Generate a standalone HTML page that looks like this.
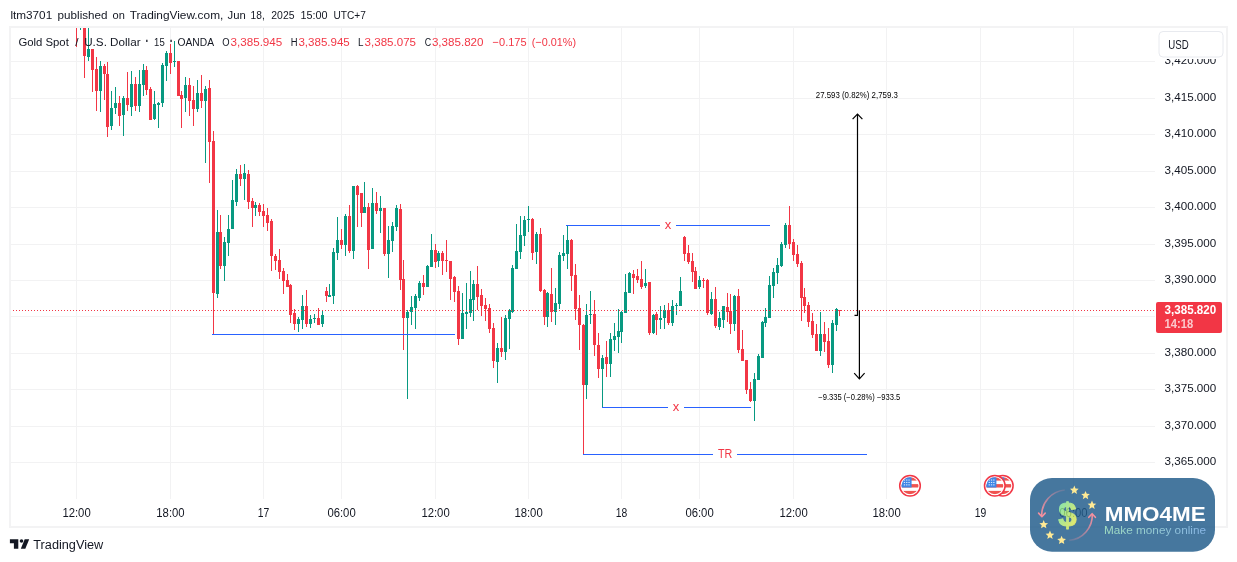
<!DOCTYPE html>
<html lang="en"><head><meta charset="utf-8"><title>XAUUSD chart</title>
<style>html,body{margin:0;padding:0;background:#fff;}svg{display:block;will-change:transform}text{font-family:"Liberation Sans",Arial,sans-serif;}</style></head><body>
<svg width="1237" height="562" viewBox="0 0 1237 562">
<defs><clipPath id="pane"><rect x="11" y="28" width="1144" height="471"/></clipPath>
<linearGradient id="dg" x1="0" y1="0" x2="1" y2="1"><stop offset="0" stop-color="#5fe0a8"/><stop offset="1" stop-color="#f6e53e"/></linearGradient>
<linearGradient id="tg" x1="0" y1="0" x2="1" y2="0"><stop offset="0" stop-color="#8ed6b4"/><stop offset="1" stop-color="#6fa6e0"/></linearGradient>
<linearGradient id="a1" x1="1" y1="0" x2="0" y2="1"><stop offset="0" stop-color="#f27a8c" stop-opacity="0.15"/><stop offset="1" stop-color="#f27a8c"/></linearGradient>
<linearGradient id="a2" x1="0" y1="1" x2="1" y2="0"><stop offset="0" stop-color="#f27a8c" stop-opacity="0.15"/><stop offset="1" stop-color="#f27a8c"/></linearGradient>
<clipPath id="fc"><circle cx="0" cy="0" r="8.5"/></clipPath>
<g id="flag"><circle cx="0" cy="0" r="10.3" fill="#fff" stroke="#F23645" stroke-width="1.5"/><g clip-path="url(#fc)"><rect x="-9" y="-9" width="18" height="18" fill="#fff"/><rect x="-9" y="-8.6" width="18" height="3.4" fill="#ef5350"/><rect x="-9" y="-1.7" width="18" height="3.4" fill="#ef5350"/><rect x="-9" y="5.1" width="18" height="3.5" fill="#ef5350"/><rect x="-9" y="-9" width="10.6" height="10.7" fill="#3f86e6"/><rect x="-6.2" y="-6.3" width="1.3" height="1.1" fill="#dbe9fb"/><rect x="-3.9" y="-6.3" width="1.3" height="1.1" fill="#dbe9fb"/><rect x="-1.6" y="-6.3" width="1.3" height="1.1" fill="#dbe9fb"/><rect x="-6.2" y="-3.9" width="1.3" height="1.1" fill="#dbe9fb"/><rect x="-3.9" y="-3.9" width="1.3" height="1.1" fill="#dbe9fb"/><rect x="-1.6" y="-3.9" width="1.3" height="1.1" fill="#dbe9fb"/><rect x="-6.2" y="-1.5" width="1.3" height="1.1" fill="#dbe9fb"/><rect x="-3.9" y="-1.5" width="1.3" height="1.1" fill="#dbe9fb"/><rect x="-1.6" y="-1.5" width="1.3" height="1.1" fill="#dbe9fb"/></g></g>
</defs>
<rect width="1237" height="562" fill="#fff"/>
<rect x="10" y="27" width="1217" height="500" fill="#fff" stroke="#f3f3f4" stroke-width="2"/>
<g shape-rendering="crispEdges" fill="#f2f2f3">
<rect x="76" y="28" width="1" height="471"/>
<rect x="170" y="28" width="1" height="471"/>
<rect x="263" y="28" width="1" height="471"/>
<rect x="341" y="28" width="1" height="471"/>
<rect x="435" y="28" width="1" height="471"/>
<rect x="528" y="28" width="1" height="471"/>
<rect x="621" y="28" width="1" height="471"/>
<rect x="699" y="28" width="1" height="471"/>
<rect x="793" y="28" width="1" height="471"/>
<rect x="886" y="28" width="1" height="471"/>
<rect x="980" y="28" width="1" height="471"/>
<rect x="1073" y="28" width="1" height="471"/>
<rect x="11" y="61" width="1144" height="1"/>
<rect x="11" y="98" width="1144" height="1"/>
<rect x="11" y="134" width="1144" height="1"/>
<rect x="11" y="171" width="1144" height="1"/>
<rect x="11" y="207" width="1144" height="1"/>
<rect x="11" y="244" width="1144" height="1"/>
<rect x="11" y="280" width="1144" height="1"/>
<rect x="11" y="316" width="1144" height="1"/>
<rect x="11" y="353" width="1144" height="1"/>
<rect x="11" y="389" width="1144" height="1"/>
<rect x="11" y="426" width="1144" height="1"/>
<rect x="11" y="462" width="1144" height="1"/>
</g>
<g shape-rendering="crispEdges" clip-path="url(#pane)">
<rect x="76" y="0" width="1" height="47" fill="#F23645"/>
<rect x="75" y="0" width="3" height="20" fill="#F23645"/>
<rect x="80" y="0" width="1" height="30" fill="#089981"/>
<rect x="79" y="0" width="3" height="20" fill="#089981"/>
<rect x="84" y="0" width="1" height="78" fill="#F23645"/>
<rect x="83" y="0" width="3" height="56" fill="#F23645"/>
<rect x="88" y="0" width="1" height="61" fill="#089981"/>
<rect x="87" y="49" width="3" height="8" fill="#089981"/>
<rect x="92" y="49" width="1" height="43" fill="#F23645"/>
<rect x="91" y="49" width="3" height="21" fill="#F23645"/>
<rect x="96" y="57" width="1" height="54" fill="#F23645"/>
<rect x="95" y="69" width="3" height="22" fill="#F23645"/>
<rect x="100" y="61" width="1" height="51" fill="#089981"/>
<rect x="99" y="66" width="3" height="25" fill="#089981"/>
<rect x="104" y="64" width="1" height="36" fill="#F23645"/>
<rect x="103" y="66" width="3" height="8" fill="#F23645"/>
<rect x="107" y="62" width="1" height="75" fill="#F23645"/>
<rect x="106" y="74" width="3" height="53" fill="#F23645"/>
<rect x="111" y="91" width="1" height="39" fill="#089981"/>
<rect x="110" y="108" width="3" height="18" fill="#089981"/>
<rect x="115" y="87" width="1" height="27" fill="#089981"/>
<rect x="114" y="103" width="3" height="5" fill="#089981"/>
<rect x="119" y="96" width="1" height="30" fill="#F23645"/>
<rect x="118" y="103" width="3" height="13" fill="#F23645"/>
<rect x="123" y="96" width="1" height="40" fill="#089981"/>
<rect x="122" y="98" width="3" height="17" fill="#089981"/>
<rect x="127" y="72" width="1" height="39" fill="#F23645"/>
<rect x="126" y="98" width="3" height="7" fill="#F23645"/>
<rect x="131" y="71" width="1" height="45" fill="#089981"/>
<rect x="130" y="84" width="3" height="23" fill="#089981"/>
<rect x="135" y="77" width="1" height="34" fill="#F23645"/>
<rect x="134" y="84" width="3" height="22" fill="#F23645"/>
<rect x="139" y="70" width="1" height="42" fill="#089981"/>
<rect x="138" y="84" width="3" height="22" fill="#089981"/>
<rect x="143" y="64" width="1" height="32" fill="#089981"/>
<rect x="142" y="70" width="3" height="15" fill="#089981"/>
<rect x="146" y="66" width="1" height="29" fill="#F23645"/>
<rect x="145" y="70" width="3" height="20" fill="#F23645"/>
<rect x="150" y="87" width="1" height="33" fill="#F23645"/>
<rect x="149" y="89" width="3" height="31" fill="#F23645"/>
<rect x="154" y="91" width="1" height="29" fill="#089981"/>
<rect x="153" y="104" width="3" height="15" fill="#089981"/>
<rect x="158" y="102" width="1" height="26" fill="#089981"/>
<rect x="157" y="103" width="3" height="2" fill="#089981"/>
<rect x="162" y="63" width="1" height="44" fill="#089981"/>
<rect x="161" y="65" width="3" height="38" fill="#089981"/>
<rect x="166" y="51" width="1" height="30" fill="#089981"/>
<rect x="165" y="53" width="3" height="13" fill="#089981"/>
<rect x="170" y="44" width="1" height="30" fill="#F23645"/>
<rect x="169" y="53" width="3" height="10" fill="#F23645"/>
<rect x="174" y="41" width="1" height="26" fill="#089981"/>
<rect x="173" y="61" width="3" height="1" fill="#089981"/>
<rect x="178" y="61" width="1" height="35" fill="#F23645"/>
<rect x="177" y="61" width="3" height="35" fill="#F23645"/>
<rect x="181" y="91" width="1" height="37" fill="#F23645"/>
<rect x="180" y="95" width="3" height="4" fill="#F23645"/>
<rect x="185" y="77" width="1" height="35" fill="#089981"/>
<rect x="184" y="85" width="3" height="13" fill="#089981"/>
<rect x="189" y="78" width="1" height="38" fill="#F23645"/>
<rect x="188" y="85" width="3" height="16" fill="#F23645"/>
<rect x="193" y="86" width="1" height="40" fill="#F23645"/>
<rect x="192" y="100" width="3" height="9" fill="#F23645"/>
<rect x="197" y="80" width="1" height="32" fill="#089981"/>
<rect x="196" y="93" width="3" height="16" fill="#089981"/>
<rect x="201" y="75" width="1" height="33" fill="#F23645"/>
<rect x="200" y="93" width="3" height="8" fill="#F23645"/>
<rect x="205" y="86" width="1" height="77" fill="#089981"/>
<rect x="204" y="89" width="3" height="12" fill="#089981"/>
<rect x="209" y="80" width="1" height="103" fill="#F23645"/>
<rect x="208" y="88" width="3" height="54" fill="#F23645"/>
<rect x="213" y="131" width="1" height="203" fill="#F23645"/>
<rect x="212" y="141" width="3" height="152" fill="#F23645"/>
<rect x="217" y="210" width="1" height="88" fill="#089981"/>
<rect x="216" y="232" width="3" height="62" fill="#089981"/>
<rect x="220" y="215" width="1" height="54" fill="#F23645"/>
<rect x="219" y="232" width="3" height="34" fill="#F23645"/>
<rect x="224" y="237" width="1" height="44" fill="#089981"/>
<rect x="223" y="242" width="3" height="24" fill="#089981"/>
<rect x="228" y="215" width="1" height="41" fill="#089981"/>
<rect x="227" y="229" width="3" height="14" fill="#089981"/>
<rect x="232" y="180" width="1" height="49" fill="#089981"/>
<rect x="231" y="200" width="3" height="29" fill="#089981"/>
<rect x="236" y="169" width="1" height="37" fill="#089981"/>
<rect x="235" y="174" width="3" height="28" fill="#089981"/>
<rect x="240" y="165" width="1" height="21" fill="#F23645"/>
<rect x="239" y="174" width="3" height="5" fill="#F23645"/>
<rect x="244" y="164" width="1" height="36" fill="#089981"/>
<rect x="243" y="173" width="3" height="6" fill="#089981"/>
<rect x="248" y="170" width="1" height="39" fill="#F23645"/>
<rect x="247" y="174" width="3" height="28" fill="#F23645"/>
<rect x="252" y="198" width="1" height="29" fill="#F23645"/>
<rect x="251" y="201" width="3" height="7" fill="#F23645"/>
<rect x="255" y="202" width="1" height="14" fill="#089981"/>
<rect x="254" y="205" width="3" height="3" fill="#089981"/>
<rect x="259" y="203" width="1" height="13" fill="#F23645"/>
<rect x="258" y="205" width="3" height="7" fill="#F23645"/>
<rect x="263" y="204" width="1" height="23" fill="#F23645"/>
<rect x="262" y="211" width="3" height="5" fill="#F23645"/>
<rect x="267" y="208" width="1" height="23" fill="#F23645"/>
<rect x="266" y="215" width="3" height="8" fill="#F23645"/>
<rect x="271" y="219" width="1" height="52" fill="#F23645"/>
<rect x="270" y="221" width="3" height="35" fill="#F23645"/>
<rect x="275" y="254" width="1" height="16" fill="#F23645"/>
<rect x="274" y="256" width="3" height="5" fill="#F23645"/>
<rect x="279" y="249" width="1" height="30" fill="#F23645"/>
<rect x="278" y="260" width="3" height="12" fill="#F23645"/>
<rect x="283" y="268" width="1" height="26" fill="#F23645"/>
<rect x="282" y="271" width="3" height="10" fill="#F23645"/>
<rect x="287" y="274" width="1" height="13" fill="#F23645"/>
<rect x="286" y="280" width="3" height="7" fill="#F23645"/>
<rect x="290" y="284" width="1" height="39" fill="#F23645"/>
<rect x="289" y="285" width="3" height="30" fill="#F23645"/>
<rect x="294" y="309" width="1" height="21" fill="#F23645"/>
<rect x="293" y="313" width="3" height="11" fill="#F23645"/>
<rect x="298" y="317" width="1" height="15" fill="#089981"/>
<rect x="297" y="319" width="3" height="5" fill="#089981"/>
<rect x="302" y="295" width="1" height="34" fill="#089981"/>
<rect x="301" y="306" width="3" height="14" fill="#089981"/>
<rect x="306" y="290" width="1" height="37" fill="#F23645"/>
<rect x="305" y="306" width="3" height="18" fill="#F23645"/>
<rect x="310" y="315" width="1" height="13" fill="#089981"/>
<rect x="309" y="319" width="3" height="5" fill="#089981"/>
<rect x="314" y="314" width="1" height="9" fill="#089981"/>
<rect x="313" y="318" width="3" height="1" fill="#089981"/>
<rect x="318" y="308" width="1" height="17" fill="#F23645"/>
<rect x="317" y="318" width="3" height="7" fill="#F23645"/>
<rect x="322" y="310" width="1" height="17" fill="#089981"/>
<rect x="321" y="315" width="3" height="9" fill="#089981"/>
<rect x="326" y="287" width="1" height="15" fill="#F23645"/>
<rect x="325" y="291" width="3" height="5" fill="#F23645"/>
<rect x="329" y="284" width="1" height="13" fill="#089981"/>
<rect x="328" y="295" width="3" height="2" fill="#089981"/>
<rect x="333" y="248" width="1" height="56" fill="#089981"/>
<rect x="332" y="252" width="3" height="44" fill="#089981"/>
<rect x="337" y="217" width="1" height="43" fill="#089981"/>
<rect x="336" y="240" width="3" height="13" fill="#089981"/>
<rect x="341" y="229" width="1" height="20" fill="#F23645"/>
<rect x="340" y="240" width="3" height="5" fill="#F23645"/>
<rect x="345" y="214" width="1" height="42" fill="#089981"/>
<rect x="344" y="216" width="3" height="29" fill="#089981"/>
<rect x="349" y="205" width="1" height="48" fill="#F23645"/>
<rect x="348" y="216" width="3" height="35" fill="#F23645"/>
<rect x="353" y="186" width="1" height="73" fill="#089981"/>
<rect x="352" y="186" width="3" height="65" fill="#089981"/>
<rect x="357" y="185" width="1" height="42" fill="#F23645"/>
<rect x="356" y="186" width="3" height="9" fill="#F23645"/>
<rect x="361" y="193" width="1" height="34" fill="#F23645"/>
<rect x="360" y="193" width="3" height="20" fill="#F23645"/>
<rect x="364" y="182" width="1" height="31" fill="#089981"/>
<rect x="363" y="207" width="3" height="6" fill="#089981"/>
<rect x="368" y="203" width="1" height="66" fill="#F23645"/>
<rect x="367" y="207" width="3" height="43" fill="#F23645"/>
<rect x="372" y="188" width="1" height="61" fill="#089981"/>
<rect x="371" y="203" width="3" height="46" fill="#089981"/>
<rect x="376" y="192" width="1" height="22" fill="#F23645"/>
<rect x="375" y="203" width="3" height="8" fill="#F23645"/>
<rect x="380" y="196" width="1" height="37" fill="#089981"/>
<rect x="379" y="208" width="3" height="3" fill="#089981"/>
<rect x="384" y="208" width="1" height="48" fill="#F23645"/>
<rect x="383" y="208" width="3" height="46" fill="#F23645"/>
<rect x="388" y="226" width="1" height="52" fill="#089981"/>
<rect x="387" y="240" width="3" height="14" fill="#089981"/>
<rect x="392" y="222" width="1" height="30" fill="#089981"/>
<rect x="391" y="226" width="3" height="15" fill="#089981"/>
<rect x="396" y="205" width="1" height="26" fill="#089981"/>
<rect x="395" y="208" width="3" height="19" fill="#089981"/>
<rect x="400" y="204" width="1" height="86" fill="#F23645"/>
<rect x="399" y="209" width="3" height="71" fill="#F23645"/>
<rect x="403" y="260" width="1" height="90" fill="#F23645"/>
<rect x="402" y="279" width="3" height="39" fill="#F23645"/>
<rect x="407" y="310" width="1" height="89" fill="#089981"/>
<rect x="406" y="312" width="3" height="6" fill="#089981"/>
<rect x="411" y="296" width="1" height="29" fill="#089981"/>
<rect x="410" y="307" width="3" height="5" fill="#089981"/>
<rect x="415" y="294" width="1" height="35" fill="#089981"/>
<rect x="414" y="296" width="3" height="12" fill="#089981"/>
<rect x="419" y="281" width="1" height="20" fill="#089981"/>
<rect x="418" y="283" width="3" height="15" fill="#089981"/>
<rect x="423" y="275" width="1" height="20" fill="#F23645"/>
<rect x="422" y="283" width="3" height="4" fill="#F23645"/>
<rect x="427" y="265" width="1" height="22" fill="#089981"/>
<rect x="426" y="266" width="3" height="21" fill="#089981"/>
<rect x="431" y="234" width="1" height="33" fill="#089981"/>
<rect x="430" y="250" width="3" height="17" fill="#089981"/>
<rect x="435" y="244" width="1" height="24" fill="#F23645"/>
<rect x="434" y="250" width="3" height="12" fill="#F23645"/>
<rect x="438" y="251" width="1" height="16" fill="#089981"/>
<rect x="437" y="253" width="3" height="8" fill="#089981"/>
<rect x="442" y="251" width="1" height="24" fill="#F23645"/>
<rect x="441" y="253" width="3" height="8" fill="#F23645"/>
<rect x="446" y="240" width="1" height="32" fill="#F23645"/>
<rect x="445" y="260" width="3" height="1" fill="#F23645"/>
<rect x="450" y="261" width="1" height="39" fill="#F23645"/>
<rect x="449" y="261" width="3" height="18" fill="#F23645"/>
<rect x="454" y="276" width="1" height="26" fill="#F23645"/>
<rect x="453" y="277" width="3" height="15" fill="#F23645"/>
<rect x="458" y="286" width="1" height="59" fill="#F23645"/>
<rect x="457" y="291" width="3" height="48" fill="#F23645"/>
<rect x="462" y="293" width="1" height="46" fill="#089981"/>
<rect x="461" y="313" width="3" height="26" fill="#089981"/>
<rect x="466" y="283" width="1" height="46" fill="#089981"/>
<rect x="465" y="312" width="3" height="2" fill="#089981"/>
<rect x="470" y="271" width="1" height="46" fill="#089981"/>
<rect x="469" y="299" width="3" height="14" fill="#089981"/>
<rect x="473" y="280" width="1" height="41" fill="#089981"/>
<rect x="472" y="284" width="3" height="16" fill="#089981"/>
<rect x="477" y="266" width="1" height="44" fill="#F23645"/>
<rect x="476" y="284" width="3" height="13" fill="#F23645"/>
<rect x="481" y="289" width="1" height="27" fill="#F23645"/>
<rect x="480" y="295" width="3" height="11" fill="#F23645"/>
<rect x="485" y="298" width="1" height="23" fill="#F23645"/>
<rect x="484" y="305" width="3" height="4" fill="#F23645"/>
<rect x="489" y="304" width="1" height="29" fill="#F23645"/>
<rect x="488" y="308" width="3" height="21" fill="#F23645"/>
<rect x="493" y="323" width="1" height="45" fill="#F23645"/>
<rect x="492" y="328" width="3" height="33" fill="#F23645"/>
<rect x="497" y="343" width="1" height="40" fill="#089981"/>
<rect x="496" y="348" width="3" height="14" fill="#089981"/>
<rect x="501" y="317" width="1" height="40" fill="#F23645"/>
<rect x="500" y="348" width="3" height="4" fill="#F23645"/>
<rect x="505" y="315" width="1" height="45" fill="#089981"/>
<rect x="504" y="318" width="3" height="34" fill="#089981"/>
<rect x="509" y="309" width="1" height="40" fill="#089981"/>
<rect x="508" y="310" width="3" height="9" fill="#089981"/>
<rect x="512" y="265" width="1" height="48" fill="#089981"/>
<rect x="511" y="268" width="3" height="44" fill="#089981"/>
<rect x="516" y="224" width="1" height="45" fill="#089981"/>
<rect x="515" y="251" width="3" height="18" fill="#089981"/>
<rect x="520" y="216" width="1" height="43" fill="#089981"/>
<rect x="519" y="235" width="3" height="17" fill="#089981"/>
<rect x="524" y="216" width="1" height="30" fill="#089981"/>
<rect x="523" y="220" width="3" height="16" fill="#089981"/>
<rect x="528" y="206" width="1" height="26" fill="#089981"/>
<rect x="527" y="219" width="3" height="1" fill="#089981"/>
<rect x="532" y="218" width="1" height="42" fill="#F23645"/>
<rect x="531" y="219" width="3" height="34" fill="#F23645"/>
<rect x="536" y="232" width="1" height="32" fill="#089981"/>
<rect x="535" y="234" width="3" height="18" fill="#089981"/>
<rect x="540" y="228" width="1" height="64" fill="#F23645"/>
<rect x="539" y="234" width="3" height="57" fill="#F23645"/>
<rect x="544" y="289" width="1" height="36" fill="#F23645"/>
<rect x="543" y="290" width="3" height="27" fill="#F23645"/>
<rect x="547" y="292" width="1" height="35" fill="#089981"/>
<rect x="546" y="293" width="3" height="24" fill="#089981"/>
<rect x="551" y="268" width="1" height="54" fill="#F23645"/>
<rect x="550" y="294" width="3" height="18" fill="#F23645"/>
<rect x="555" y="288" width="1" height="37" fill="#089981"/>
<rect x="554" y="303" width="3" height="9" fill="#089981"/>
<rect x="559" y="252" width="1" height="57" fill="#089981"/>
<rect x="558" y="255" width="3" height="49" fill="#089981"/>
<rect x="563" y="235" width="1" height="26" fill="#089981"/>
<rect x="562" y="253" width="3" height="3" fill="#089981"/>
<rect x="567" y="225" width="1" height="44" fill="#089981"/>
<rect x="566" y="240" width="3" height="14" fill="#089981"/>
<rect x="571" y="239" width="1" height="52" fill="#F23645"/>
<rect x="570" y="240" width="3" height="36" fill="#F23645"/>
<rect x="575" y="264" width="1" height="56" fill="#F23645"/>
<rect x="574" y="275" width="3" height="34" fill="#F23645"/>
<rect x="579" y="295" width="1" height="55" fill="#F23645"/>
<rect x="578" y="308" width="3" height="17" fill="#F23645"/>
<rect x="583" y="324" width="1" height="130" fill="#F23645"/>
<rect x="582" y="325" width="3" height="60" fill="#F23645"/>
<rect x="586" y="304" width="1" height="95" fill="#089981"/>
<rect x="585" y="315" width="3" height="70" fill="#089981"/>
<rect x="590" y="291" width="1" height="33" fill="#089981"/>
<rect x="589" y="314" width="3" height="1" fill="#089981"/>
<rect x="594" y="300" width="1" height="56" fill="#F23645"/>
<rect x="593" y="314" width="3" height="31" fill="#F23645"/>
<rect x="598" y="333" width="1" height="45" fill="#F23645"/>
<rect x="597" y="345" width="3" height="24" fill="#F23645"/>
<rect x="602" y="355" width="1" height="52" fill="#089981"/>
<rect x="601" y="358" width="3" height="11" fill="#089981"/>
<rect x="606" y="341" width="1" height="36" fill="#F23645"/>
<rect x="605" y="357" width="3" height="7" fill="#F23645"/>
<rect x="610" y="333" width="1" height="44" fill="#089981"/>
<rect x="609" y="339" width="3" height="25" fill="#089981"/>
<rect x="614" y="323" width="1" height="28" fill="#089981"/>
<rect x="613" y="336" width="3" height="4" fill="#089981"/>
<rect x="618" y="309" width="1" height="44" fill="#089981"/>
<rect x="617" y="331" width="3" height="6" fill="#089981"/>
<rect x="621" y="311" width="1" height="32" fill="#089981"/>
<rect x="620" y="312" width="3" height="20" fill="#089981"/>
<rect x="625" y="274" width="1" height="39" fill="#089981"/>
<rect x="624" y="292" width="3" height="21" fill="#089981"/>
<rect x="629" y="272" width="1" height="21" fill="#089981"/>
<rect x="628" y="273" width="3" height="20" fill="#089981"/>
<rect x="633" y="270" width="1" height="24" fill="#F23645"/>
<rect x="632" y="274" width="3" height="4" fill="#F23645"/>
<rect x="637" y="269" width="1" height="14" fill="#F23645"/>
<rect x="636" y="276" width="3" height="4" fill="#F23645"/>
<rect x="641" y="261" width="1" height="28" fill="#F23645"/>
<rect x="640" y="279" width="3" height="8" fill="#F23645"/>
<rect x="645" y="269" width="1" height="19" fill="#089981"/>
<rect x="644" y="283" width="3" height="3" fill="#089981"/>
<rect x="649" y="282" width="1" height="53" fill="#F23645"/>
<rect x="648" y="282" width="3" height="51" fill="#F23645"/>
<rect x="653" y="314" width="1" height="20" fill="#089981"/>
<rect x="652" y="315" width="3" height="18" fill="#089981"/>
<rect x="656" y="312" width="1" height="23" fill="#F23645"/>
<rect x="655" y="314" width="3" height="6" fill="#F23645"/>
<rect x="660" y="306" width="1" height="23" fill="#089981"/>
<rect x="659" y="318" width="3" height="2" fill="#089981"/>
<rect x="664" y="305" width="1" height="24" fill="#089981"/>
<rect x="663" y="310" width="3" height="8" fill="#089981"/>
<rect x="668" y="303" width="1" height="22" fill="#F23645"/>
<rect x="667" y="310" width="3" height="13" fill="#F23645"/>
<rect x="672" y="300" width="1" height="26" fill="#089981"/>
<rect x="671" y="306" width="3" height="17" fill="#089981"/>
<rect x="676" y="303" width="1" height="12" fill="#089981"/>
<rect x="675" y="305" width="3" height="1" fill="#089981"/>
<rect x="680" y="277" width="1" height="29" fill="#089981"/>
<rect x="679" y="291" width="3" height="15" fill="#089981"/>
<rect x="684" y="236" width="1" height="25" fill="#F23645"/>
<rect x="683" y="237" width="3" height="17" fill="#F23645"/>
<rect x="688" y="245" width="1" height="19" fill="#F23645"/>
<rect x="687" y="253" width="3" height="9" fill="#F23645"/>
<rect x="692" y="253" width="1" height="29" fill="#F23645"/>
<rect x="691" y="261" width="3" height="11" fill="#F23645"/>
<rect x="695" y="267" width="1" height="22" fill="#F23645"/>
<rect x="694" y="271" width="3" height="18" fill="#F23645"/>
<rect x="699" y="276" width="1" height="13" fill="#089981"/>
<rect x="698" y="280" width="3" height="7" fill="#089981"/>
<rect x="703" y="278" width="1" height="10" fill="#F23645"/>
<rect x="702" y="280" width="3" height="1" fill="#F23645"/>
<rect x="707" y="279" width="1" height="36" fill="#F23645"/>
<rect x="706" y="280" width="3" height="33" fill="#F23645"/>
<rect x="711" y="292" width="1" height="23" fill="#089981"/>
<rect x="710" y="299" width="3" height="15" fill="#089981"/>
<rect x="715" y="287" width="1" height="41" fill="#F23645"/>
<rect x="714" y="299" width="3" height="27" fill="#F23645"/>
<rect x="719" y="312" width="1" height="18" fill="#089981"/>
<rect x="718" y="318" width="3" height="9" fill="#089981"/>
<rect x="723" y="306" width="1" height="22" fill="#089981"/>
<rect x="722" y="306" width="3" height="14" fill="#089981"/>
<rect x="727" y="293" width="1" height="29" fill="#F23645"/>
<rect x="726" y="307" width="3" height="5" fill="#F23645"/>
<rect x="730" y="294" width="1" height="40" fill="#F23645"/>
<rect x="729" y="311" width="3" height="13" fill="#F23645"/>
<rect x="734" y="295" width="1" height="36" fill="#089981"/>
<rect x="733" y="296" width="3" height="28" fill="#089981"/>
<rect x="738" y="289" width="1" height="64" fill="#F23645"/>
<rect x="737" y="296" width="3" height="54" fill="#F23645"/>
<rect x="742" y="330" width="1" height="31" fill="#F23645"/>
<rect x="741" y="349" width="3" height="12" fill="#F23645"/>
<rect x="746" y="360" width="1" height="34" fill="#F23645"/>
<rect x="745" y="360" width="3" height="30" fill="#F23645"/>
<rect x="750" y="382" width="1" height="20" fill="#F23645"/>
<rect x="749" y="389" width="3" height="12" fill="#F23645"/>
<rect x="754" y="373" width="1" height="48" fill="#089981"/>
<rect x="753" y="379" width="3" height="22" fill="#089981"/>
<rect x="758" y="354" width="1" height="26" fill="#089981"/>
<rect x="757" y="356" width="3" height="24" fill="#089981"/>
<rect x="762" y="321" width="1" height="37" fill="#089981"/>
<rect x="761" y="322" width="3" height="36" fill="#089981"/>
<rect x="765" y="308" width="1" height="19" fill="#089981"/>
<rect x="764" y="317" width="3" height="6" fill="#089981"/>
<rect x="769" y="276" width="1" height="42" fill="#089981"/>
<rect x="768" y="285" width="3" height="33" fill="#089981"/>
<rect x="773" y="268" width="1" height="30" fill="#089981"/>
<rect x="772" y="272" width="3" height="14" fill="#089981"/>
<rect x="777" y="258" width="1" height="26" fill="#089981"/>
<rect x="776" y="265" width="3" height="8" fill="#089981"/>
<rect x="781" y="242" width="1" height="25" fill="#089981"/>
<rect x="780" y="244" width="3" height="22" fill="#089981"/>
<rect x="785" y="223" width="1" height="25" fill="#089981"/>
<rect x="784" y="225" width="3" height="20" fill="#089981"/>
<rect x="789" y="206" width="1" height="43" fill="#F23645"/>
<rect x="788" y="225" width="3" height="19" fill="#F23645"/>
<rect x="793" y="239" width="1" height="22" fill="#F23645"/>
<rect x="792" y="242" width="3" height="13" fill="#F23645"/>
<rect x="797" y="245" width="1" height="22" fill="#F23645"/>
<rect x="796" y="254" width="3" height="10" fill="#F23645"/>
<rect x="801" y="261" width="1" height="60" fill="#F23645"/>
<rect x="800" y="263" width="3" height="35" fill="#F23645"/>
<rect x="804" y="288" width="1" height="25" fill="#F23645"/>
<rect x="803" y="297" width="3" height="9" fill="#F23645"/>
<rect x="808" y="302" width="1" height="25" fill="#F23645"/>
<rect x="807" y="305" width="3" height="17" fill="#F23645"/>
<rect x="812" y="313" width="1" height="25" fill="#F23645"/>
<rect x="811" y="321" width="3" height="14" fill="#F23645"/>
<rect x="816" y="324" width="1" height="27" fill="#F23645"/>
<rect x="815" y="334" width="3" height="17" fill="#F23645"/>
<rect x="820" y="312" width="1" height="44" fill="#089981"/>
<rect x="819" y="334" width="3" height="17" fill="#089981"/>
<rect x="824" y="322" width="1" height="30" fill="#F23645"/>
<rect x="823" y="334" width="3" height="8" fill="#F23645"/>
<rect x="828" y="328" width="1" height="40" fill="#F23645"/>
<rect x="827" y="341" width="3" height="24" fill="#F23645"/>
<rect x="832" y="320" width="1" height="53" fill="#089981"/>
<rect x="831" y="323" width="3" height="42" fill="#089981"/>
<rect x="836" y="308" width="1" height="23" fill="#089981"/>
<rect x="835" y="309" width="3" height="16" fill="#089981"/>
<rect x="839" y="310" width="1" height="6" fill="#F23645"/>
<rect x="838" y="310" width="3" height="1" fill="#F23645"/>
</g>
<g shape-rendering="crispEdges" fill="#2962FF">
<rect x="212" y="334" width="243" height="1"/>
<rect x="566" y="225" width="94" height="1"/>
<rect x="676" y="225" width="94" height="1"/>
<rect x="602" y="407" width="66" height="1"/>
<rect x="684" y="407" width="67" height="1"/>
<rect x="583" y="454" width="130" height="1"/>
<rect x="737" y="454" width="130" height="1"/>
</g>
<text x="668" y="229" font-size="13" fill="#F23645" text-anchor="middle">x</text>
<text x="676" y="411" font-size="13" fill="#F23645" text-anchor="middle">x</text>
<text x="718" y="458.2" font-size="12" fill="#F23645" textLength="14.3" lengthAdjust="spacingAndGlyphs">TR</text>
<line x1="13" y1="310.5" x2="1156" y2="310.5" stroke="#F23645" stroke-width="1" stroke-dasharray="1 2" shape-rendering="crispEdges"/>
<g stroke="#000" stroke-width="1.2" fill="none" stroke-linecap="butt">
<path d="M857.5 114 V315.4 M854.5 315.4 H858"/>
<path d="M852.6 119.2 L857.5 114.1 L862.4 119.2"/>
<path d="M859.4 310.5 V378.5"/>
<path d="M854.2 373.2 L859.4 378.8 L864.6 373.2"/>
</g>
<text x="815.8" y="98" font-size="8.5" fill="#000" textLength="82" lengthAdjust="spacingAndGlyphs">27.593 (0.82%) 2,759.3</text>
<text x="818.3" y="400" font-size="8.5" fill="#000" textLength="82" lengthAdjust="spacingAndGlyphs">−9.335 (−0.28%) −933.5</text>
<use href="#flag" x="1002.8" y="485.8"/><use href="#flag" x="994.8" y="485.8"/><use href="#flag" x="910" y="485.8"/>
<text x="1164.5" y="63.9" font-size="11.8" fill="#131722" textLength="51.8" lengthAdjust="spacingAndGlyphs">3,420.000</text>
<text x="1164.5" y="100.9" font-size="11.8" fill="#131722" textLength="51.8" lengthAdjust="spacingAndGlyphs">3,415.000</text>
<text x="1164.5" y="136.9" font-size="11.8" fill="#131722" textLength="51.8" lengthAdjust="spacingAndGlyphs">3,410.000</text>
<text x="1164.5" y="173.9" font-size="11.8" fill="#131722" textLength="51.8" lengthAdjust="spacingAndGlyphs">3,405.000</text>
<text x="1164.5" y="209.9" font-size="11.8" fill="#131722" textLength="51.8" lengthAdjust="spacingAndGlyphs">3,400.000</text>
<text x="1164.5" y="246.9" font-size="11.8" fill="#131722" textLength="51.8" lengthAdjust="spacingAndGlyphs">3,395.000</text>
<text x="1164.5" y="282.9" font-size="11.8" fill="#131722" textLength="51.8" lengthAdjust="spacingAndGlyphs">3,390.000</text>
<text x="1164.5" y="355.9" font-size="11.8" fill="#131722" textLength="51.8" lengthAdjust="spacingAndGlyphs">3,380.000</text>
<text x="1164.5" y="391.9" font-size="11.8" fill="#131722" textLength="51.8" lengthAdjust="spacingAndGlyphs">3,375.000</text>
<text x="1164.5" y="428.9" font-size="11.8" fill="#131722" textLength="51.8" lengthAdjust="spacingAndGlyphs">3,370.000</text>
<text x="1164.5" y="464.9" font-size="11.8" fill="#131722" textLength="51.8" lengthAdjust="spacingAndGlyphs">3,365.000</text>
<rect x="1158" y="28" width="68" height="31" fill="#fff"/>
<rect x="1159" y="31.5" width="64" height="25.5" rx="4" fill="#fff" stroke="#e8eaef" stroke-width="1"/>
<text x="1168.3" y="48.6" font-size="12" fill="#131722" textLength="20.4" lengthAdjust="spacingAndGlyphs">USD</text>
<rect x="1156" y="302" width="66" height="31" rx="2" fill="#F23645"/>
<text x="1164.5" y="313.8" font-size="12" font-weight="bold" fill="#fff" textLength="51.8" lengthAdjust="spacingAndGlyphs">3,385.820</text>
<text x="1164.5" y="327.5" font-size="12" font-weight="bold" fill="#fbc9cd" textLength="28.7" lengthAdjust="spacingAndGlyphs">14:18</text>
<text x="62.4" y="516.8" font-size="12" fill="#131722" textLength="28.3" lengthAdjust="spacingAndGlyphs">12:00</text>
<text x="156.3" y="516.8" font-size="12" fill="#131722" textLength="28.3" lengthAdjust="spacingAndGlyphs">18:00</text>
<text x="257.8" y="516.8" font-size="12" fill="#131722" textLength="11.5" lengthAdjust="spacingAndGlyphs">17</text>
<text x="327.4" y="516.8" font-size="12" fill="#131722" textLength="28.3" lengthAdjust="spacingAndGlyphs">06:00</text>
<text x="421.4" y="516.8" font-size="12" fill="#131722" textLength="28.3" lengthAdjust="spacingAndGlyphs">12:00</text>
<text x="514.4" y="516.8" font-size="12" fill="#131722" textLength="28.3" lengthAdjust="spacingAndGlyphs">18:00</text>
<text x="615.8" y="516.8" font-size="12" fill="#131722" textLength="11.5" lengthAdjust="spacingAndGlyphs">18</text>
<text x="685.4" y="516.8" font-size="12" fill="#131722" textLength="28.3" lengthAdjust="spacingAndGlyphs">06:00</text>
<text x="779.4" y="516.8" font-size="12" fill="#131722" textLength="28.3" lengthAdjust="spacingAndGlyphs">12:00</text>
<text x="872.4" y="516.8" font-size="12" fill="#131722" textLength="28.3" lengthAdjust="spacingAndGlyphs">18:00</text>
<text x="974.8" y="516.8" font-size="12" fill="#131722" textLength="11.5" lengthAdjust="spacingAndGlyphs">19</text>
<text x="1059.3" y="516.8" font-size="12" fill="#131722" textLength="28.3" lengthAdjust="spacingAndGlyphs">06:00</text>
<text x="18.4" y="45.7" font-size="11.7" fill="#131722" textLength="50.4" lengthAdjust="spacingAndGlyphs" >Gold Spot</text>
<text x="75.3" y="45.7" font-size="11.7" fill="#131722" textLength="3.3" lengthAdjust="spacingAndGlyphs" >/</text>
<text x="84.2" y="45.7" font-size="11.7" fill="#131722" textLength="56.4" lengthAdjust="spacingAndGlyphs" >U.S. Dollar</text>
<text x="145.6" y="46.3" font-size="14" fill="#131722" textLength="3.2" lengthAdjust="spacingAndGlyphs" font-weight="bold">·</text>
<text x="154.1" y="45.7" font-size="11.7" fill="#131722" textLength="10.6" lengthAdjust="spacingAndGlyphs" >15</text>
<text x="169.7" y="46.3" font-size="14" fill="#131722" textLength="3.2" lengthAdjust="spacingAndGlyphs" font-weight="bold">·</text>
<text x="177.5" y="45.7" font-size="11.7" fill="#131722" textLength="36.5" lengthAdjust="spacingAndGlyphs" >OANDA</text>
<text x="222.2" y="45.7" font-size="11.7" fill="#131722" textLength="7.3" lengthAdjust="spacingAndGlyphs" >O</text>
<text x="230.5" y="45.7" font-size="11.7" fill="#F23645" textLength="51.8" lengthAdjust="spacingAndGlyphs" >3,385.945</text>
<text x="290.7" y="45.7" font-size="11.7" fill="#131722" textLength="6.8" lengthAdjust="spacingAndGlyphs" >H</text>
<text x="298.4" y="45.7" font-size="11.7" fill="#F23645" textLength="51.4" lengthAdjust="spacingAndGlyphs" >3,385.945</text>
<text x="358.1" y="45.7" font-size="11.7" fill="#131722" textLength="5.5" lengthAdjust="spacingAndGlyphs" >L</text>
<text x="364.6" y="45.7" font-size="11.7" fill="#F23645" textLength="51.4" lengthAdjust="spacingAndGlyphs" >3,385.075</text>
<text x="424.7" y="45.7" font-size="11.7" fill="#131722" textLength="6.4" lengthAdjust="spacingAndGlyphs" >C</text>
<text x="431.9" y="45.7" font-size="11.7" fill="#F23645" textLength="51.6" lengthAdjust="spacingAndGlyphs" >3,385.820</text>
<text x="492.6" y="45.7" font-size="11.7" fill="#F23645" textLength="34.0" lengthAdjust="spacingAndGlyphs" >−0.175</text>
<text x="531.8" y="45.7" font-size="11.7" fill="#F23645" textLength="44.2" lengthAdjust="spacingAndGlyphs" >(−0.01%)</text>
<text x="10.4" y="18.8" font-size="11.7" fill="#131722" textLength="41.8" lengthAdjust="spacingAndGlyphs" >ltm3701</text>
<text x="57.6" y="18.8" font-size="11.7" fill="#131722" textLength="49.9" lengthAdjust="spacingAndGlyphs" >published</text>
<text x="112.5" y="18.8" font-size="11.7" fill="#131722" textLength="12.3" lengthAdjust="spacingAndGlyphs" >on</text>
<text x="129.8" y="18.8" font-size="11.7" fill="#131722" textLength="93.5" lengthAdjust="spacingAndGlyphs" >TradingView.com,</text>
<text x="227.5" y="18.8" font-size="11.7" fill="#131722" textLength="18.2" lengthAdjust="spacingAndGlyphs" >Jun</text>
<text x="250.6" y="18.8" font-size="11.7" fill="#131722" textLength="14.2" lengthAdjust="spacingAndGlyphs" >18,</text>
<text x="271.3" y="18.8" font-size="11.7" fill="#131722" textLength="23.2" lengthAdjust="spacingAndGlyphs" >2025</text>
<text x="300.4" y="18.8" font-size="11.7" fill="#131722" textLength="27.1" lengthAdjust="spacingAndGlyphs" >15:00</text>
<text x="333.4" y="18.8" font-size="11.7" fill="#131722" textLength="32.4" lengthAdjust="spacingAndGlyphs" >UTC+7</text>
<g opacity="0.83"><rect x="1030" y="478" width="185" height="73.7" rx="22" fill="#215c8b"/>
<polygon points="1074.3,485.6 1075.5,488.6 1078.7,488.8 1076.3,490.9 1077.0,494.0 1074.3,492.3 1071.6,494.0 1072.4,490.9 1070.0,488.8 1073.1,488.6" fill="#ffe680"/>
<polygon points="1085.5,490.9 1086.8,493.8 1089.9,494.0 1087.5,496.1 1088.2,499.2 1085.5,497.5 1082.8,499.2 1083.6,496.1 1081.2,494.0 1084.3,493.8" fill="#ffe680"/>
<polygon points="1092.0,500.6 1093.2,503.5 1096.3,503.8 1093.9,505.8 1094.7,508.9 1092.0,507.3 1089.3,508.9 1090.0,505.8 1087.6,503.8 1090.7,503.5" fill="#ffe680"/>
<polygon points="1043.7,520.0 1044.9,522.9 1048.1,523.2 1045.7,525.3 1046.4,528.3 1043.7,526.7 1041.0,528.3 1041.7,525.3 1039.3,523.2 1042.5,522.9" fill="#ffe680"/>
<polygon points="1050.0,530.6 1051.2,533.6 1054.3,533.8 1051.9,535.9 1052.7,539.0 1050.0,537.3 1047.3,539.0 1048.0,535.9 1045.6,533.8 1048.7,533.6" fill="#ffe680"/>
<polygon points="1061.6,535.7 1062.8,538.6 1066.0,538.9 1063.6,541.0 1064.3,544.0 1061.6,542.4 1058.9,544.0 1059.7,541.0 1057.2,538.9 1060.4,538.6" fill="#ffe680"/>
<path d="M1064.8 490.0 A25.3 25.3 0 0 0 1041.7 516.1" fill="none" stroke="url(#a1)" stroke-width="1.6"/>
<path d="M1038.6 513.1 l3.3 3.6 l3.3 -3.6" fill="none" stroke="#f27a8c" stroke-width="1.6" stroke-linejoin="round" stroke-linecap="round"/>
<path d="M1069.2 540.4 A25.3 25.3 0 0 0 1092.3 514.3" fill="none" stroke="url(#a2)" stroke-width="1.6"/>
<path d="M1088.8 517.3 l3.3 -3.6 l3.3 3.6" fill="none" stroke="#f27a8c" stroke-width="1.6" stroke-linejoin="round" stroke-linecap="round"/>
<text x="1067.5" y="526" font-size="33" font-weight="bold" fill="url(#dg)" stroke="url(#dg)" stroke-width="0.9" stroke-linejoin="round" text-anchor="middle">$</text>
<text x="1104.7" y="520.5" font-size="19.5" font-weight="bold" fill="#fff" textLength="101" lengthAdjust="spacingAndGlyphs">MMO4ME</text>
<text x="1104" y="534.2" font-size="10.5" fill="url(#tg)" textLength="102" lengthAdjust="spacingAndGlyphs">Make money online</text>
</g>
<g fill="#131722"><path d="M9.9 539.3 H18.3 V548.7 H13.9 V543.2 H9.9 Z"/><circle cx="21.5" cy="541" r="1.8"/><path d="M24.7 539.3 H29.2 L25.3 548.7 H20.8 Z"/></g>
<text x="33.3" y="548.7" font-size="12" fill="#131722" textLength="70" lengthAdjust="spacingAndGlyphs">TradingView</text>
</svg></body></html>
